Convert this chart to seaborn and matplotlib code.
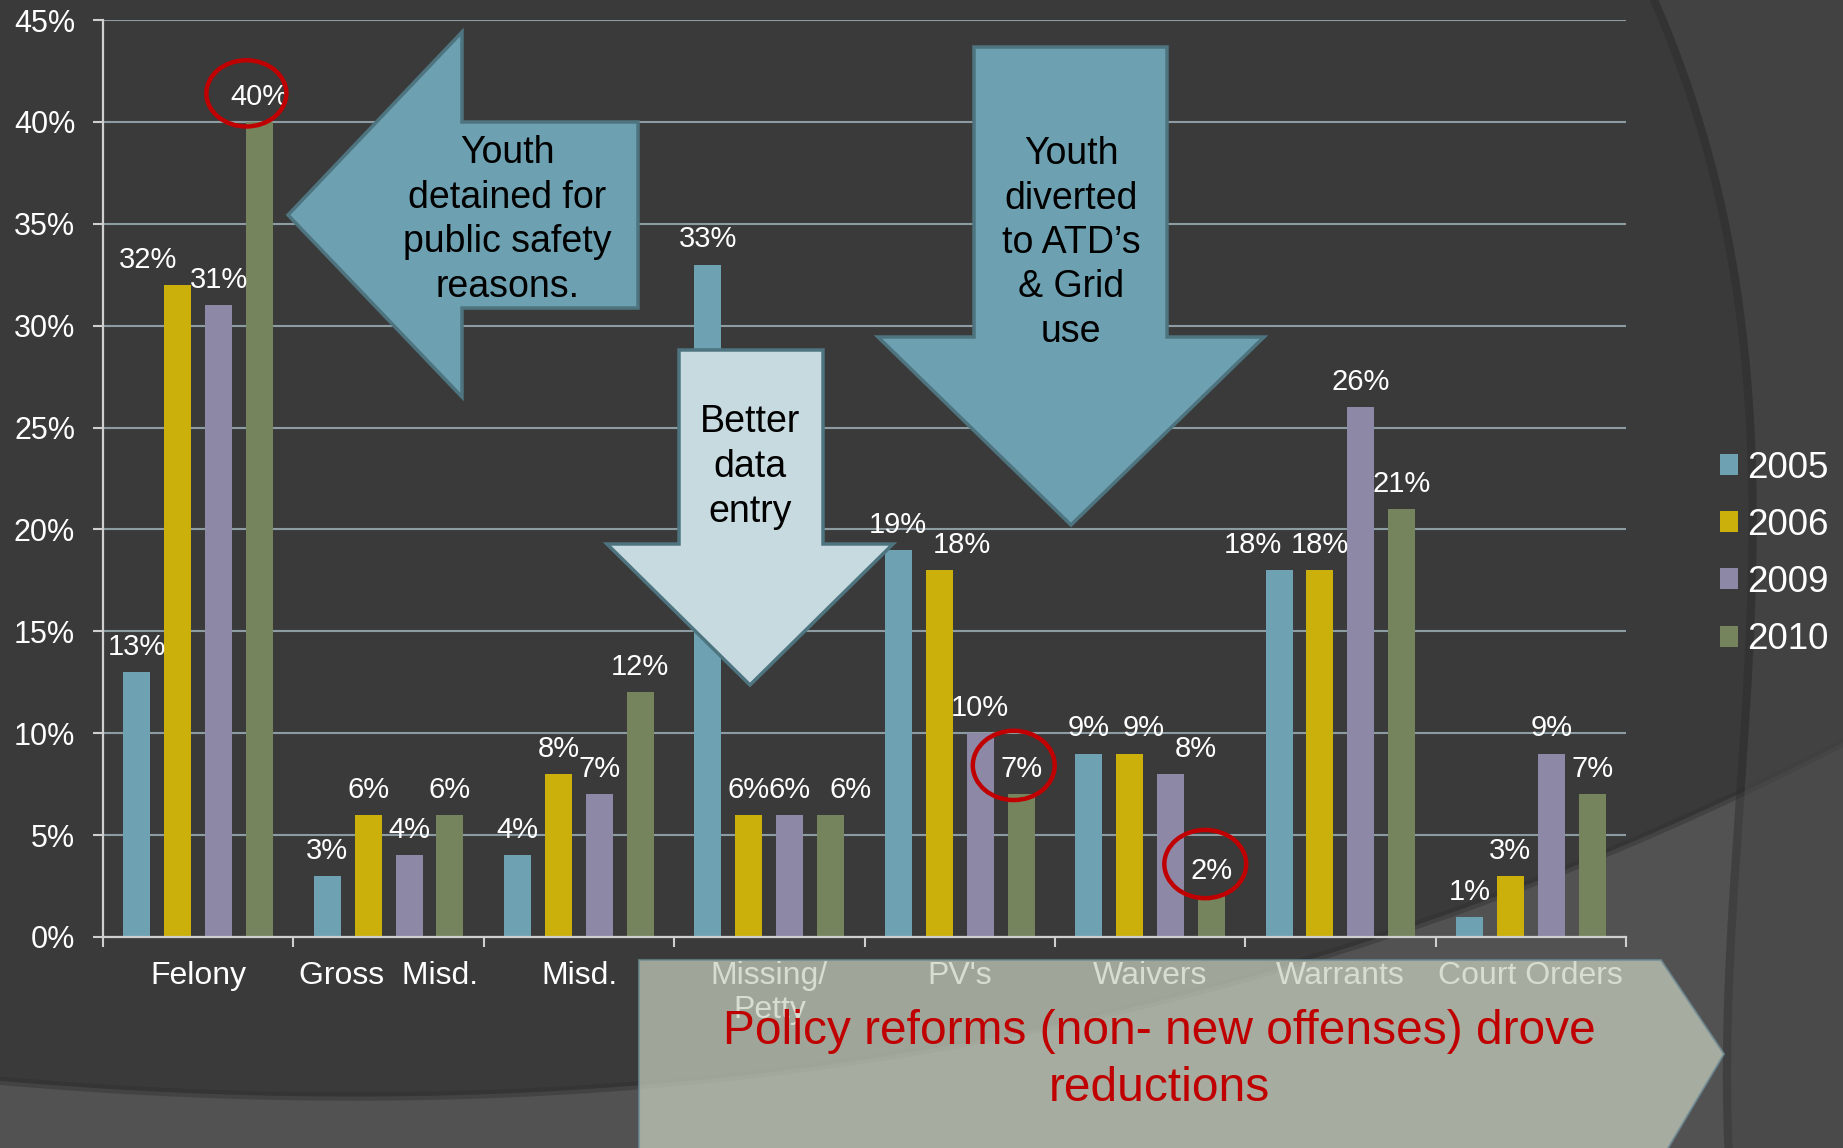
"""
Detention reasons by year: grouped bars on a dark slide background,
with the callout arrows and circles from the original presentation.
"""

import numpy as np
import pandas as pd
import matplotlib
matplotlib.use("Agg")
import matplotlib.pyplot as plt
from matplotlib.patches import Polygon, Ellipse
import seaborn as sns

# -- Data -----------------------------------------------------------------------
categories = ["Felony", "Gross  Misd.", "Misd.", "Missing/\nPetty",
              "PV's", "Waivers", "Warrants", "Court Orders"]
years = ["2005", "2006", "2009", "2010"]
pct_2005 = [13, 3, 4, 33, 19, 9, 18, 1]
pct_2006 = [32, 6, 8, 6, 18, 9, 18, 3]
pct_2009 = [31, 4, 7, 6, 10, 8, 26, 9]
pct_2010 = [40, 6, 12, 6, 7, 2, 21, 7]
ytick_values = [0, 5, 10, 15, 20, 25, 30, 35, 40, 45]

# -- Style ----------------------------------------------------------------------
W, H = 1843, 1148
BG = "#3A3A3A"
PALETTE = {"2005": "#6EA1B2", "2006": "#CBAF0B", "2009": "#8C88A6", "2010": "#76845D"}
GRID = "#8D9CA3"
AXIS = "#CFCFCF"
RED = "#C00000"

sns.set_theme(style="white")
plt.rcParams["font.family"] = ["Liberation Sans", "DejaVu Sans"]


def px(x, y):
    """Full-size pixel position (y down) -> figure fraction."""
    return (x / W, 1 - y / H)


def fig_poly(fig, pts, **kw):
    fig.patches.append(Polygon([px(x, y) for x, y in pts], closed=True,
                               transform=fig.transFigure, figure=fig, **kw))


def fig_line(fig, pts, **kw):
    xs, ys = zip(*[px(x, y) for x, y in pts])
    fig.lines.append(plt.Line2D(xs, ys, transform=fig.transFigure, **kw))


df = pd.DataFrame({
    "Offense": categories * len(years),
    "Year": np.repeat(years, len(categories)),
    "Pct": pct_2005 + pct_2006 + pct_2009 + pct_2010,
})

fig = plt.figure(figsize=(W / 100, H / 100), dpi=100, facecolor=BG)

# -- Background arcs (slide theme), smoothed through a few traced points ----------
bx, by = zip(*[(0, 1082), (400, 1092), (640, 1087), (900, 1057), (1150, 1003),
               (1417, 924), (1600, 855), (1721, 800), (1843, 745)])
gx = np.linspace(0, W, 200)
gy = np.polyval(np.polyfit(bx, by, 3), gx)
bottom_curve = list(zip(gx, gy))
fig_poly(fig, bottom_curve + [(W, H), (0, H)],
         facecolor="#525252", edgecolor="none", zorder=-5)
fig_line(fig, bottom_curve, color="#2E2E2E", lw=6, alpha=0.4, zorder=-4)

rx, ry = zip(*[(1658, 0), (1687, 67), (1713, 167), (1733, 267), (1753, 367),
               (1760, 430), (1757, 520), (1752, 600), (1747, 700), (1740, 900),
               (1732, 1148)])
hy = np.linspace(0, H, 200)
hx = np.polyval(np.polyfit(ry, rx, 4), hy)
right_curve = list(zip(hx, hy))
fig_poly(fig, right_curve + [(W, H), (W, 0)],
         facecolor="#474747", edgecolor="none", alpha=0.65, zorder=-3)
fig_line(fig, [(x - 4, y) for x, y in right_curve], color="#2C2C2C",
         lw=6, alpha=0.45, zorder=-2)

# -- Bars -----------------------------------------------------------------------
ax = fig.add_axes([103 / W, 1 - 937 / H, (1626 - 103) / W, (937 - 20) / H])
ax.set_facecolor("none")
sns.barplot(data=df, x="Offense", y="Pct", hue="Year", order=categories,
            hue_order=years, palette=PALETTE, saturation=1, width=0.86,
            gap=0.34, linewidth=0, ax=ax)

handles, labels = ax.get_legend_handles_labels()
ax.get_legend().remove()

ax.set_xlim(-0.5, len(categories) - 0.5)
ax.set_ylim(0, 45)
ax.set_yticks(ytick_values)
ax.set_yticklabels([f"{v}%" for v in ytick_values])
ax.set_xlabel("")
ax.set_ylabel("")
ax.set_axisbelow(True)
ax.yaxis.grid(True, color=GRID, lw=1.5)
ax.xaxis.grid(False)

for side in ["top", "right"]:
    ax.spines[side].set_visible(False)
for side in ["left", "bottom"]:
    ax.spines[side].set_color(AXIS)
    ax.spines[side].set_linewidth(1.6)

ax.tick_params(axis="y", left=True, length=7, width=1.5, color=AXIS, pad=13,
               labelcolor="white", labelsize=22)
ax.set_xticks(np.arange(-0.5, len(categories)), minor=True)
ax.tick_params(axis="x", which="major", length=0, pad=17,
               labelcolor="white", labelsize=23)
ax.tick_params(axis="x", which="minor", bottom=True, length=7, width=1.5,
               color=AXIS)

# value labels, a few nudged sideways as on the slide
nudges = {(1, 0): -21, (3, 3): 14, (1, 4): 16, (1, 5): 10, (2, 5): 18, (0, 6): -19}
for i, cont in enumerate(ax.containers):
    anns = ax.bar_label(cont, labels=[f"{v:g}%" for v in cont.datavalues],
                        padding=8, color="white", fontsize=21)
    for j, ann in enumerate(anns):
        if (i, j) in nudges:
            ann.xyann = (nudges[(i, j)], 8)

# red circles around the highlighted labels
for (cx, cy, w, h) in [(0.253, 41.4, 0.42, 3.25), (4.284, 8.42, 0.43, 3.4),
                       (5.290, 3.58, 0.43, 3.35)]:
    ax.add_patch(Ellipse((cx, cy), w, h, fill=False, edgecolor=RED, lw=3.2,
                         clip_on=False, zorder=6))

fig.legend(handles, labels, loc="center left", bbox_to_anchor=(1720 / W, 1 - 554 / H),
           frameon=False, fontsize=26.5, labelcolor="white", handlelength=0.5,
           handleheight=0.5, handletextpad=0.25, labelspacing=0.6,
           borderpad=0, borderaxespad=0)

# -- Callout arrows ---------------------------------------------------------------
ARROW = "#6DA0B0"
ARROW_EDGE = "#4E7480"
fig_poly(fig, [(288, 215), (462, 32), (462, 122), (638, 122), (638, 308),
               (462, 308), (462, 397)],
         facecolor=ARROW, edgecolor=ARROW_EDGE, lw=2.5, zorder=2)
fig.text(*px(507, 220), "Youth\ndetained for\npublic safety\nreasons.",
         ha="center", va="center", fontsize=27, color="black",
         linespacing=1.3, zorder=3)

fig_poly(fig, [(974, 47), (1167, 47), (1167, 337), (1264, 337), (1071, 525),
               (878, 337), (974, 337)],
         facecolor=ARROW, edgecolor=ARROW_EDGE, lw=2.5, zorder=2)
fig.text(*px(1071, 243), "Youth\ndiverted\nto ATD\u2019s\n& Grid\nuse",
         ha="center", va="center", fontsize=27, color="black",
         linespacing=1.3, zorder=3)

fig_poly(fig, [(679, 350), (823, 350), (823, 544), (893, 544), (750, 685),
               (607, 544), (679, 544)],
         facecolor="#C6DAE0", edgecolor=ARROW_EDGE, lw=2.5, zorder=2)
fig.text(*px(750, 467), "Better\ndata\nentry",
         ha="center", va="center", fontsize=27, color="black",
         linespacing=1.33, zorder=3)

fig_poly(fig, [(639, 960), (1661, 960), (1724, 1054), (1661, 1160), (639, 1160)],
         facecolor="#C8D0BF", edgecolor="#6D8C97", lw=1.5, alpha=0.72, zorder=2)
fig.text(*px(1159, 1060), "Policy reforms (non- new offenses) drove\nreductions",
         ha="center", va="center", fontsize=34.5, color=RED,
         linespacing=1.35, zorder=3)

fig.savefig("out.png", dpi=100, facecolor=BG)
